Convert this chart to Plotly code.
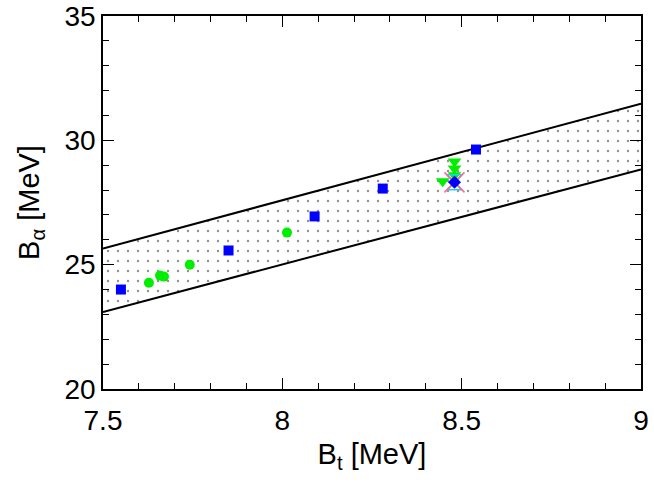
import plotly.graph_objects as go

# Band edges (lines)
band_x = [7.5, 9.0]
band_upper = [25.65, 31.47]
band_lower = [23.10, 28.83]

# Blue squares
sq_x = [7.55, 7.85, 8.09, 8.28, 8.54]
sq_y = [24.0, 25.57, 26.94, 28.06, 29.63]

# Green circles
circ_x = [7.628, 7.659, 7.67, 7.742, 8.013]
circ_y = [24.27, 24.56, 24.52, 25.0, 26.29]

# Green down-triangles
tri_x = [8.48, 8.48, 8.48, 8.447]
tri_y = [29.15, 28.87, 28.6, 28.35]

# Special point (blue diamond / hourglass / red cross)
sp_x = [8.48]
sp_y = [28.31]

fig = go.Figure()
fig.add_trace(go.Scatter(x=band_x, y=band_lower, mode="lines",
                         line=dict(color="black", width=2), showlegend=False))
fig.add_trace(go.Scatter(x=band_x, y=band_upper, mode="lines", fill="tonexty",
                         fillcolor="rgba(0,0,0,0)",
                         fillpattern=dict(shape=".", fgcolor="#222222", bgcolor="white",
                                          size=10, solidity=0.045),
                         line=dict(color="black", width=2), showlegend=False))
fig.add_trace(go.Scatter(x=circ_x, y=circ_y, mode="markers",
                         marker=dict(symbol="circle", size=10, color="#00ee00"),
                         showlegend=False))
fig.add_trace(go.Scatter(x=sq_x, y=sq_y, mode="markers",
                         marker=dict(symbol="square", size=10, color="#0000ff"),
                         showlegend=False))
fig.add_trace(go.Scatter(x=tri_x, y=tri_y, mode="markers",
                         marker=dict(symbol="triangle-down", size=12, color="#00ee00"),
                         showlegend=False))
fig.add_trace(go.Scatter(x=sp_x, y=sp_y, mode="markers",
                         marker=dict(symbol="hourglass-open", size=15,
                                     line=dict(color="#0000ff", width=1.5)),
                         showlegend=False))
fig.add_trace(go.Scatter(x=sp_x, y=sp_y, mode="markers",
                         marker=dict(symbol="x-thin-open", size=20,
                                     line=dict(color="#ff0000", width=1.5)),
                         showlegend=False))
fig.add_trace(go.Scatter(x=sp_x, y=sp_y, mode="markers",
                         marker=dict(symbol="diamond", size=10, color="#0000ff"),
                         showlegend=False))

font = dict(family="Liberation Sans, Arial, sans-serif", size=28, color="black")
tfont = dict(family="Liberation Sans, Arial, sans-serif", size=29, color="black")
axis_common = dict(showgrid=False, zeroline=False, showline=True, linecolor="black",
                   linewidth=1.5, mirror="allticks", ticks="inside", ticklen=11,
                   tickwidth=1.2, tickcolor="black", tickfont=font, automargin=False,
                   ticklabeloverflow="allow")

fig.update_xaxes(range=[7.5, 9.0], tickvals=[7.5, 8, 8.5, 9],
                 ticktext=["7.5", "8", "8.5", "9"], ticklabelstandoff=6,
                 minor=dict(dtick=0.1, ticks="inside", ticklen=6, tickcolor="black", tickwidth=1.2),
                 title=dict(text="B<sub>t</sub> [MeV]", font=tfont, standoff=8),
                 **axis_common)
fig.update_yaxes(range=[20, 35], tickvals=[20, 25, 30, 35],
                 minor=dict(dtick=1, ticks="inside", ticklen=6, tickcolor="black", tickwidth=1.2),
                 title=dict(text="B<sub>α</sub> [MeV]", font=tfont, standoff=16),
                 **axis_common)

fig.update_layout(width=654, height=483, plot_bgcolor="white", paper_bgcolor="white",
                  margin=dict(l=103, r=13, t=16, b=94), font=font)
fig.write_html("out.html", config={"displayModeBar": False},
               post_script="document.body.style.margin='0';")
